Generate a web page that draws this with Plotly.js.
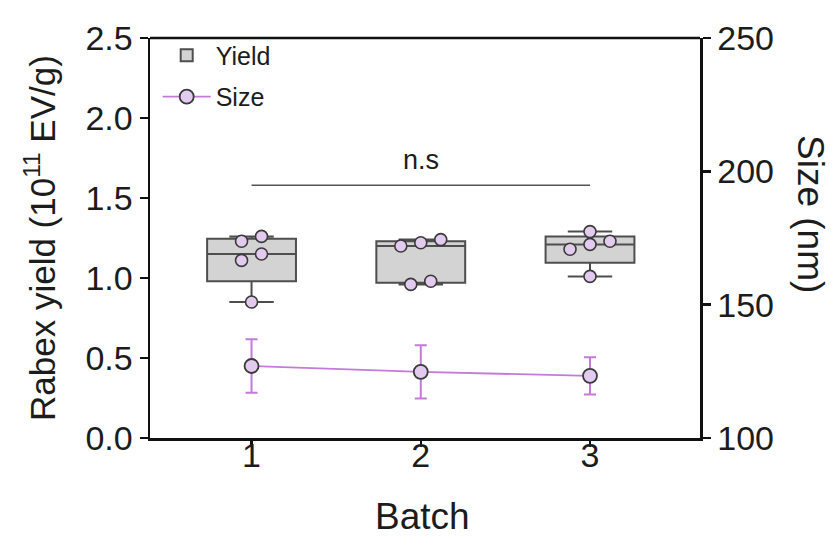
<!DOCTYPE html>
<html>
<head>
<meta charset="utf-8">
<script src="https://cdn.plot.ly/plotly-3.0.1.min.js"></script>
<style>html,body{margin:0;padding:0;background:#fff;}#chart{width:832px;height:538px;}</style>
</head>
<body>
<div id="chart"></div>
<script>
// ---- data ----
const batches = [1, 2, 3];
const tickLabels = ['1', '2', '3'];
const yieldBatch1 = [0.85, 1.11, 1.15, 1.23, 1.26];
const yieldBatch2 = [0.96, 0.98, 1.20, 1.22, 1.24];
const yieldBatch3 = [1.01, 1.18, 1.21, 1.23, 1.29];
const sizeMean = [127.0, 124.8, 123.3];
const sizeSD = [10.0, 10.0, 7.0];
const nsLevel = 1.58;
const nsLabel = 'n.s';

// ---- build traces ----
const yieldGroups = [yieldBatch1, yieldBatch2, yieldBatch3];
const boxX = [], boxY = [];
yieldGroups.forEach((g, i) => g.forEach(v => { boxX.push(batches[i]); boxY.push(v); }));

// simple dot arrangement: points closer than `rowGap` in value share a row, centred on the batch
const rowGap = 0.05, step = 0.118;
const ptX = [], ptY = [];
yieldGroups.forEach((g, i) => {
  const s = g.slice().sort((a, b) => a - b);
  let rows = [], cur = [s[0]];
  for (let k = 1; k < s.length; k++) {
    if (s[k] - cur[cur.length - 1] < rowGap) cur.push(s[k]); else { rows.push(cur); cur = [s[k]]; }
  }
  rows.push(cur);
  rows.forEach(r => r.forEach((v, j) => {
    ptX.push(batches[i] + (j - (r.length - 1) / 2) * step);
    ptY.push(v);
  }));
});

const purple = '#c47ad9';
const dotFill = '#e2cbee';
const dotLine = '#3a3a3a';
const txt = '#1c1c1c';

const traces = [
  {
    type: 'box', name: 'Yield', x: boxX, y: boxY,
    quartilemethod: 'exclusive', boxpoints: false, width: 0.525, whiskerwidth: 0.5,
    fillcolor: '#d3d3d3', line: { color: '#4e4e4e', width: 2 },
    legendgroup: 'a', hoverinfo: 'skip'
  },
  {
    type: 'scatter', mode: 'markers', x: ptX, y: ptY, showlegend: false,
    marker: { size: 12, color: dotFill, line: { color: dotLine, width: 1.6 } },
    hoverinfo: 'skip'
  },
  {
    type: 'scatter', mode: 'lines+markers', name: 'Size', x: batches, y: sizeMean, yaxis: 'y2',
    line: { color: purple, width: 1.8 },
    marker: { size: 14, color: dotFill, line: { color: dotLine, width: 1.8 } },
    error_y: { type: 'data', array: sizeSD, visible: true, color: purple, thickness: 2, width: 6 },
    legendgroup: 'b'
  }
];

const font = 'Liberation Sans, Arial, sans-serif';
const layout = {
  width: 832, height: 538,
  margin: { l: 150, r: 132, t: 38, b: 100 },
  paper_bgcolor: '#fff', plot_bgcolor: '#fff',
  font: { family: font, color: txt },
  showlegend: true,
  legend: { x: 0.014, y: 1.014, xanchor: 'left', yanchor: 'top', bgcolor: 'rgba(0,0,0,0)',
            font: { size: 25, family: font, color: txt }, tracegroupgap: 6, itemwidth: 48 },
  xaxis: {
    range: [0.4, 3.65], tickvals: batches, ticktext: tickLabels,
    showgrid: false, zeroline: false, showline: true, linecolor: '#111', linewidth: 2.5,
    ticks: 'outside', ticklen: 6, tickwidth: 2.5, tickcolor: '#111', ticklabelstandoff: -20,
    tickfont: { size: 34, family: font, color: txt }, mirror: false
  },
  yaxis: {
    range: [0, 2.5], dtick: 0.5, tickformat: '.1f',
    showgrid: false, zeroline: false, showline: true, linecolor: '#111', linewidth: 2.5,
    ticks: 'outside', ticklen: 8, tickwidth: 2.5, tickcolor: '#111',
    tickfont: { size: 34, family: font, color: txt }
  },
  yaxis2: {
    overlaying: 'y', side: 'right', range: [100, 250], dtick: 50,
    showgrid: false, zeroline: false, showline: true, linecolor: '#111', linewidth: 2.5,
    ticks: 'outside', ticklen: 8, tickwidth: 2.5, tickcolor: '#111',
    tickfont: { size: 34, family: font, color: txt }
  },
  shapes: [
    { type: 'line', xref: 'paper', yref: 'paper', x0: 0, x1: 1, y0: 1, y1: 1, line: { color: '#111', width: 2.5 } },
    { type: 'line', xref: 'x', yref: 'y', x0: batches[0], x1: batches[2], y0: nsLevel, y1: nsLevel, line: { color: '#555', width: 1.6 } }
  ],
  annotations: [
    { text: nsLabel, xref: 'x', yref: 'y', x: batches[1], y: nsLevel, yanchor: 'bottom', showarrow: false, yshift: 8,
      font: { size: 27, family: font, color: txt } },
    { text: 'Rabex yield (10<sup>11</sup> EV/g)', xref: 'paper', yref: 'paper', x: -0.2, y: 0.5, textangle: -90,
      showarrow: false, xanchor: 'center', yanchor: 'middle', font: { size: 35, family: font, color: txt } },
    { text: 'Size (nm)', xref: 'paper', yref: 'paper', x: 1.2, y: 0.56, textangle: 90,
      showarrow: false, xanchor: 'center', yanchor: 'middle', font: { size: 37, family: font, color: txt } },
    { text: 'Batch', xref: 'paper', yref: 'paper', x: 0.495, y: -0.195, showarrow: false,
      xanchor: 'center', yanchor: 'middle', font: { size: 37, family: font, color: txt } }
  ]
};

Plotly.newPlot('chart', traces, layout, { staticPlot: true, displayModeBar: false });
</script>
</body>
</html>
